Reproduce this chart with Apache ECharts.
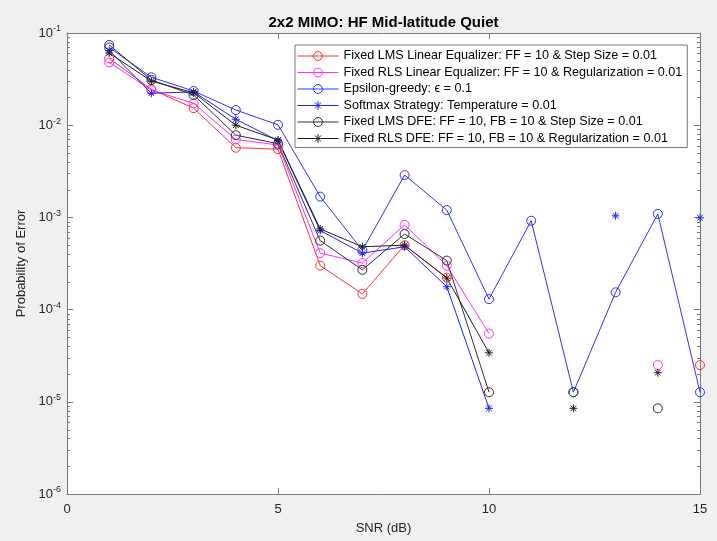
<!DOCTYPE html>
<html><head><meta charset="utf-8">
<script src="https://cdn.jsdelivr.net/npm/echarts@6/dist/echarts.min.js"></script>
<style>html,body{margin:0;padding:0;background:#f0f0f0}#c{width:717px;height:541px}</style>
</head><body><div id="c"></div><script>
const snr = [1,2,3,4,5,6,7,8,9,10,11,12,13,14,15];
const lmsLinear = [0.053,0.0245,0.0153,0.0057,0.0055,0.00030,0.000148,0.00050,0.000222,null,null,null,null,null,2.5e-5];
const rlsLinear = [0.048,0.024,0.0173,0.0070,0.0061,0.00041,0.00032,0.00083,0.00030,5.5e-5,null,null,null,2.5e-5,null];
const epsGreedy = [0.0697,0.0331,0.0235,0.0146,0.0101,0.00168,0.00044,0.00288,0.00120,0.000130,0.00092,1.27e-5,0.000154,0.00109,1.27e-5];
const softmax = [0.0646,0.0222,0.0230,0.0116,0.0068,0.00072,0.00041,0.00048,0.000177,8.5e-6,null,null,0.00104,null,0.00099];
const lmsDfe = [0.0741,0.0309,0.0213,0.0078,0.0063,0.00056,0.00027,0.00066,0.00034,1.27e-5,null,1.27e-5,null,8.5e-6,null];
const rlsDfe = [0.0607,0.0301,0.0225,0.0100,0.0069,0.00075,0.00048,0.00050,0.00022,3.4e-5,null,8.5e-6,null,2.07e-5,null];
const names = [
  'Fixed LMS Linear Equalizer: FF = 10 & Step Size = 0.01',
  'Fixed RLS Linear Equalizer: FF = 10 & Regularization = 0.01',
  'Epsilon-greedy: \u03f5 = 0.1',
  'Softmax Strategy: Temperature = 0.01',
  'Fixed LMS DFE: FF = 10, FB = 10 & Step Size = 0.01',
  'Fixed RLS DFE: FF = 10, FB = 10 & Regularization = 0.01'
];
const xTicks = [0,5,10,15];
const yMin = 1e-6, yMax = 1e-1;
const minorTicks = [];
for (let k = -6; k <= -2; k++) for (let m = 2; m <= 9; m++) minorTicks.push(m * Math.pow(10, k));

const AX = '#7a7a7a';
const FONT = 'Liberation Sans';
const STAR = 'path://M5 0L5 10M0 5L10 5M1.5 1.5L8.5 8.5M8.5 1.5L1.5 8.5';
const pair = arr => snr.map((x, i) => [x, arr[i]]);

function mk(name, arr, color, sym) {
  return {
    name, type: 'line', data: pair(arr),
    symbol: sym === 'o' ? 'circle' : STAR,
    symbolSize: sym === 'o' ? 9 : 8,
    showSymbol: true, showAllSymbol: true, connectNulls: false,
    lineStyle: { color, width: 1 },
    itemStyle: { color: 'rgba(0,0,0,0)', borderColor: color, borderWidth: 1 },
    emphasis: { disabled: true },
    z: 3
  };
}

const chart = echarts.init(document.getElementById('c'), null, { renderer: 'canvas' });
const axisCommon = {
  axisLine: { show: true, onZero: false, lineStyle: { color: AX, width: 1 } },
  axisTick: { show: true, inside: true, length: 6, lineStyle: { color: AX } },
  splitLine: { show: false }
};
chart.setOption({
  animation: false,
  backgroundColor: '#f0f0f0',
  title: {
    text: '2x2 MIMO: HF Mid-latitude Quiet', left: 383.5, textAlign: 'center', top: 14, padding: 0,
    textStyle: { fontFamily: FONT, fontSize: 15, fontWeight: 'bold', color: '#000', lineHeight: 18 }
  },
  grid: { left: 67, right: 17, top: 33, bottom: 47, show: true, backgroundColor: '#fff', borderWidth: 0 },
  legend: {
    orient: 'vertical', left: 295, top: 45, itemWidth: 41, itemHeight: 11, itemGap: 2.5,
    padding: [4, 5, 2, 2], backgroundColor: '#fff', borderColor: AX, borderWidth: 1,
    lineStyle: { width: 1 }, itemStyle: { borderWidth: 1 },
    textStyle: { fontFamily: FONT, fontSize: 12.6, lineHeight: 14, color: '#000' },
    data: names, selectedMode: false
  },
  xAxis: [
    Object.assign({
      type: 'value', min: xTicks[0], max: xTicks[xTicks.length - 1], interval: 5, position: 'bottom',
      axisLabel: { margin: 9, color: '#262626', fontSize: 13, fontFamily: FONT },
      name: 'SNR (dB)', nameLocation: 'middle', nameGap: 28,
      nameTextStyle: { fontFamily: FONT, fontSize: 13, color: '#262626' }
    }, axisCommon),
    Object.assign({
      type: 'value', min: xTicks[0], max: xTicks[xTicks.length - 1], interval: 5, position: 'top',
      axisLabel: { show: false }
    }, axisCommon)
  ],
  yAxis: [
    Object.assign({
      type: 'log', logBase: 10, min: yMin, max: yMax, splitNumber: 5,
      axisLabel: {
        margin: 6, color: '#262626', fontFamily: FONT,
        formatter: v => '{b|10}{e|' + Math.round(Math.log10(v)) + '}',
        rich: {
          b: { fontSize: 13, lineHeight: 17, fontFamily: FONT, color: '#262626' },
          e: { fontSize: 9, lineHeight: 11, verticalAlign: 'top', fontFamily: FONT, color: '#262626' }
        }
      },
      name: 'Probability of Error', nameLocation: 'middle', nameGap: 36,
      nameTextStyle: { fontFamily: FONT, fontSize: 13, color: '#262626' }
    }, axisCommon),
    Object.assign({
      type: 'log', logBase: 10, min: yMin, max: yMax, splitNumber: 5, position: 'right',
      axisLabel: { show: false }
    }, axisCommon)
  ],
  series: [
    mk(names[0], lmsLinear, '#ff3030', 'o'),
    mk(names[1], rlsLinear, '#ff30ff', 'o'),
    mk(names[2], epsGreedy, '#3030ff', 'o'),
    mk(names[3], softmax, '#2020ff', '*'),
    mk(names[4], lmsDfe, '#303030', 'o'),
    mk(names[5], rlsDfe, '#202020', '*'),
    {
      type: 'custom', silent: true, z: 2, clip: false,
      data: minorTicks.map(v => [0, v]),
      encode: { x: 0, y: 1 },
      renderItem: (params, api) => {
        const v = api.value(1);
        const pl = api.coord([xTicks[0], v]);
        const pr = api.coord([xTicks[xTicks.length - 1], v]);
        const y = Math.round(pl[1]) + 0.5;
        return { type: 'group', children: [
          { type: 'line', shape: { x1: pl[0], y1: y, x2: pl[0] + 3, y2: y }, style: { stroke: AX, lineWidth: 1 } },
          { type: 'line', shape: { x1: pr[0] - 3, y1: y, x2: pr[0], y2: y }, style: { stroke: AX, lineWidth: 1 } }
        ]};
      }
    }
  ]
});
</script></body></html>
